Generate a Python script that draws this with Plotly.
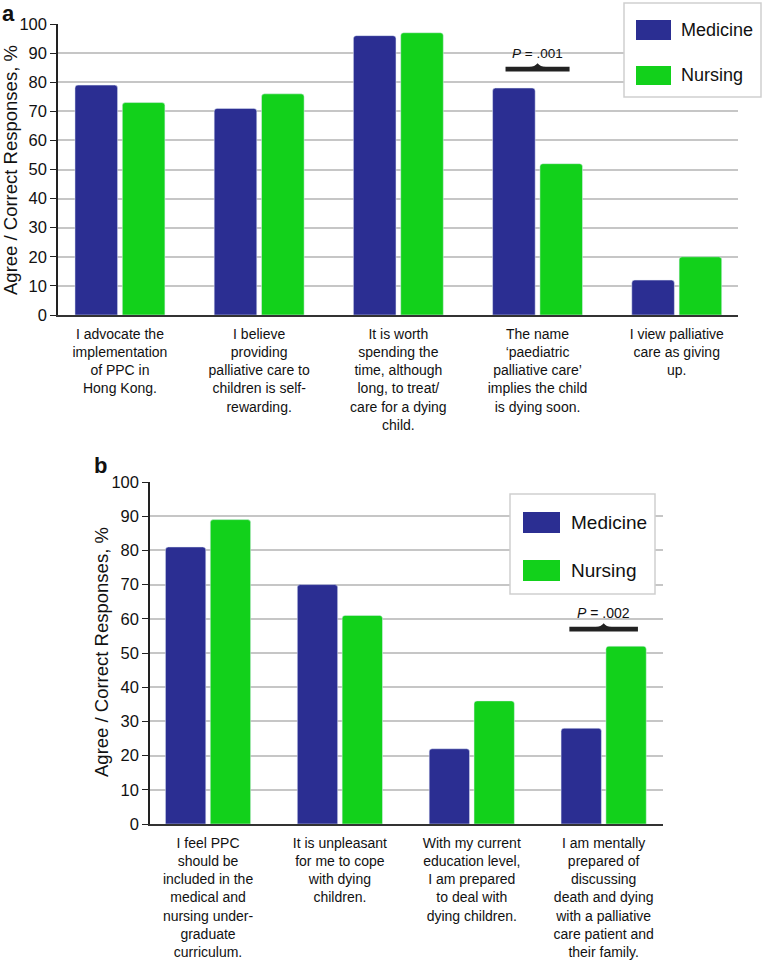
import plotly.graph_objects as go

# ---- data ----
cats_a = [
    "I advocate the<br>implementation<br>of PPC in<br>Hong Kong.",
    "I believe<br>providing<br>palliative care to<br>children is self-<br>rewarding.",
    "It is worth<br>spending the<br>time, although<br>long, to treat/<br>care for a dying<br>child.",
    "The name<br>‘paediatric<br>palliative care’<br>implies the child<br>is dying soon.",
    "I view palliative<br>care as giving<br>up.",
]
medicine_a = [79, 71, 96, 78, 12]
nursing_a = [73, 76, 97, 52, 20]

cats_b = [
    "I feel PPC<br>should be<br>included in the<br>medical and<br>nursing under-<br>graduate<br>curriculum.",
    "It is unpleasant<br>for me to cope<br>with dying<br>children.",
    "With my current<br>education level,<br>I am prepared<br>to deal with<br>dying children.",
    "I am mentally<br>prepared of<br>discussing<br>death and dying<br>with a palliative<br>care patient and<br>their family.",
]
medicine_b = [81, 70, 22, 28]
nursing_b = [89, 61, 36, 52]

series_names = ["Medicine", "Nursing"]
pval_a = {"index": 3, "text": "<i>P</i> = .001", "y": 84.5}
pval_b = {"index": 3, "text": "<i>P</i> = .002", "y": 57}

# ---- style ----
W, H = 762, 972
BLUE = "#2B2E92"
GREEN = "#12D11B"
GRID = "#c6c6c6"
FONT = "Liberation Sans, Arial, sans-serif"


def px(x):
    return x / W


def py(y):
    return 1 - y / H


fig = go.Figure()

xa = list(range(len(cats_a)))
xb = list(range(len(cats_b)))

fig.add_trace(go.Bar(x=xa, y=medicine_a, name=series_names[0], marker=dict(color=BLUE, cornerradius=3),
                     xaxis="x", yaxis="y", showlegend=False))
fig.add_trace(go.Bar(x=xa, y=nursing_a, name=series_names[1], marker=dict(color=GREEN, cornerradius=3),
                     xaxis="x", yaxis="y", showlegend=False))
fig.add_trace(go.Bar(x=xb, y=medicine_b, name=series_names[0], marker=dict(color=BLUE, cornerradius=3),
                     xaxis="x2", yaxis="y2", showlegend=False))
fig.add_trace(go.Bar(x=xb, y=nursing_b, name=series_names[1], marker=dict(color=GREEN, cornerradius=3),
                     xaxis="x2", yaxis="y2", showlegend=False))

yax_common = dict(range=[0, 100], dtick=10, showgrid=True, gridcolor=GRID, gridwidth=2,
                  showline=True, linecolor="#222", linewidth=1.5, ticks="outside", ticklen=6,
                  tickcolor="#222", tickwidth=1, zeroline=False,
                  tickfont=dict(family=FONT, size=16.5, color="#111"), automargin=False)
xax_common = dict(showline=True, linecolor="#333", linewidth=2, ticks="", showgrid=False,
                  zeroline=False, tickfont=dict(family=FONT, size=14, color="#111"),
                  automargin=False, tickangle=0, ticklabelstandoff=5)

fig.update_layout(
    width=W, height=H,
    margin=dict(l=0, r=0, t=0, b=0),
    paper_bgcolor="white", plot_bgcolor="white",
    barmode="group", bargap=0.32, bargroupgap=0.1,
    showlegend=False,
    xaxis=dict(domain=[px(58), px(738)], range=[-0.445, 4.44], tickvals=xa, ticktext=cats_a,
               anchor="y", **xax_common),
    yaxis=dict(domain=[py(315), py(24)], anchor="x", **yax_common),
    xaxis2=dict(domain=[px(150), px(663)], range=[-0.44, 3.45], tickvals=xb, ticktext=cats_b,
                anchor="y2", **xax_common),
    yaxis2=dict(domain=[py(824), py(482)], anchor="x2", **yax_common),
)

ann = []
shapes = []

# y-axis titles
for cx, cy in [(10, 170), (101, 652)]:
    ann.append(dict(text="Agree / Correct Responses, %", x=px(cx), y=py(cy), xref="paper", yref="paper",
                    textangle=-90, showarrow=False, font=dict(family=FONT, size=18.5, color="#111"),
                    xanchor="center", yanchor="middle"))

# panel letters
ann.append(dict(text="<b>a</b>", x=px(1), y=1, xref="paper", yref="paper", showarrow=False,
                font=dict(family=FONT, size=22, color="#111"), xanchor="left", yanchor="top",
                borderpad=0))
ann.append(dict(text="<b>b</b>", x=px(92), y=py(465), xref="paper", yref="paper", showarrow=False,
                font=dict(family=FONT, size=22, color="#111"), xanchor="left", yanchor="middle"))


# legends (drawn manually for large swatches)
def legend(box, sw_x, sw_rows, txt_x, fs):
    shapes.append(dict(type="rect", xref="paper", yref="paper", x0=px(box[0]), x1=px(box[1]),
                       y0=py(box[3]), y1=py(box[2]), fillcolor="white",
                       line=dict(color="#cfcfcf", width=1.5), layer="above"))
    for (r0, r1), col, name in zip(sw_rows, [BLUE, GREEN], series_names):
        shapes.append(dict(type="rect", xref="paper", yref="paper", x0=px(sw_x[0]), x1=px(sw_x[1]),
                           y0=py(r1), y1=py(r0), fillcolor=col, line=dict(width=0), layer="above"))
        ann.append(dict(text=name, x=px(txt_x), y=py((r0 + r1) / 2), xref="paper", yref="paper",
                        showarrow=False, xanchor="left", yanchor="middle",
                        font=dict(family=FONT, size=fs, color="#111")))


legend((624, 761, 3, 97), (636, 671), [(20, 40), (66, 85)], 679, 18)
legend((510, 655, 494, 594), (523, 560), [(512, 533), (560, 581)], 569, 19)


# p-value braces
def brace(pv, xr, yr, half, thick, bump_w, bump_h, txt_dy, fs):
    c = pv["index"]
    y = pv["y"]
    shapes.append(dict(type="rect", xref=xr, yref=yr, x0=c - half, x1=c + half,
                       y0=y - thick / 2, y1=y + thick / 2, fillcolor="#222", line=dict(width=0)))
    path = (f"M {c - bump_w} {y + thick / 2 - 0.1} Q {c - bump_w / 3} {y + thick / 2} {c} {y + thick / 2 + bump_h} "
            f"Q {c + bump_w / 3} {y + thick / 2} {c + bump_w} {y + thick / 2 - 0.1} Z")
    shapes.append(dict(type="path", xref=xr, yref=yr, path=path, fillcolor="#222", line=dict(width=0)))
    ann.append(dict(text=pv["text"], x=c, y=y + txt_dy, xref=xr, yref=yr, showarrow=False,
                    xanchor="center", yanchor="middle", font=dict(family=FONT, size=fs, color="#111")))


brace(pval_a, "x", "y", 0.23, 1.6, 0.06, 1.2, 5.3, 13.5)
brace(pval_b, "x2", "y2", 0.26, 1.4, 0.06, 1.0, 4.6, 14)

fig.update_layout(annotations=ann, shapes=shapes)

fig.write_html("out.html", config={"displayModeBar": False},
               post_script="document.body.style.margin='0px';")
